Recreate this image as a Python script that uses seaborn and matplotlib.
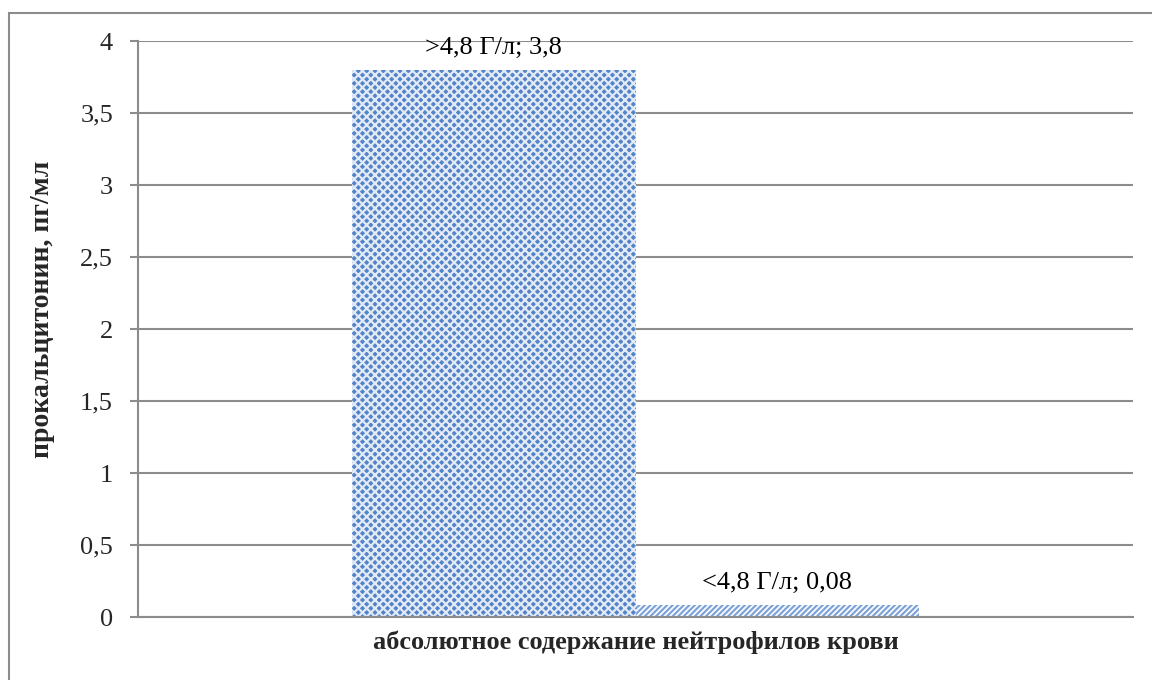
import matplotlib
matplotlib.use("Agg")
import matplotlib.pyplot as plt
import seaborn as sns
import pandas as pd
from matplotlib.patches import Rectangle

categories = ["абсолютное содержание нейтрофилов крови"]
groups = [">4,8 Г/л", "<4,8 Г/л"]
values = [3.8, 0.08]
value_labels = ["3,8", "0,08"]
y_ticks = [0, 0.5, 1, 1.5, 2, 2.5, 3, 3.5, 4]
y_tick_labels = ["0", "0,5", "1", "1,5", "2", "2,5", "3", "3,5", "4"]

df = pd.DataFrame({"cat": categories * len(groups), "group": groups, "value": values})

sns.set_theme(style="white")
plt.rcParams["font.family"] = ["Liberation Serif", "DejaVu Serif"]
plt.rcParams["hatch.linewidth"] = 1.6

fig = plt.figure(figsize=(11.52, 6.8), dpi=100)
ax = fig.add_axes([138 / 1152, 1 - 617 / 680, (1133 - 138) / 1152, (617 - 41) / 680])

sns.barplot(data=df, x="cat", y="value", hue="group", hue_order=groups,
            width=0.57, ax=ax, legend=False, errorbar=None, linewidth=0)

styles = [
    dict(face="#5383C8", hatch="xxxx", edge="#E2EAF6"),
    dict(face="#FFFFFF", hatch="//////", edge="#7FA3D8"),
]
for patch, st in zip(ax.patches, styles):
    patch.set_facecolor(st["face"])
    patch.set_hatch(st["hatch"])
    patch.set_edgecolor(st["edge"])
    patch.set_linewidth(0)

# data labels above each bar
for patch, g, lab in zip(ax.patches, groups, value_labels):
    xc = patch.get_x() + patch.get_width() / 2
    ax.annotate(f"{g}; {lab}", (xc, patch.get_height()), xytext=(0, 8),
                textcoords="offset points", ha="center", va="bottom",
                fontsize=19, color="black")

ax.set_xlim(-0.5, 0.5)
ax.set_ylim(0, 4)
ax.set_yticks(y_ticks)
ax.set_yticklabels(y_tick_labels)
ax.yaxis.grid(True, color="#8C8C8C", linewidth=1.5)
ax.set_axisbelow(True)
ax.tick_params(axis="y", which="major", left=True, length=6, width=1.5,
               color="#8C8C8C", labelsize=19, pad=12)
ax.tick_params(axis="x", bottom=False, labelsize=19, pad=4)
for lbl in ax.get_xticklabels():
    lbl.set_fontweight("bold")
ax.set_xlabel("")
ax.set_ylabel("прокальцитонин, пг/мл", fontsize=20, fontweight="bold")
ax.yaxis.set_label_coords(-0.083, 0.535)

for side in ["top", "right"]:
    ax.spines[side].set_visible(False)
for side in ["left", "bottom"]:
    ax.spines[side].set_color("#8C8C8C")
    ax.spines[side].set_linewidth(1.5)

# chart-area frame
fig.patches.append(Rectangle((9 / 1152, -0.05), 1.2, 1 - 13 / 680 + 0.05,
                             transform=fig.transFigure, fill=False,
                             edgecolor="#8C8C8C", linewidth=1.5))

fig.savefig("out.png", dpi=100, facecolor="white")
